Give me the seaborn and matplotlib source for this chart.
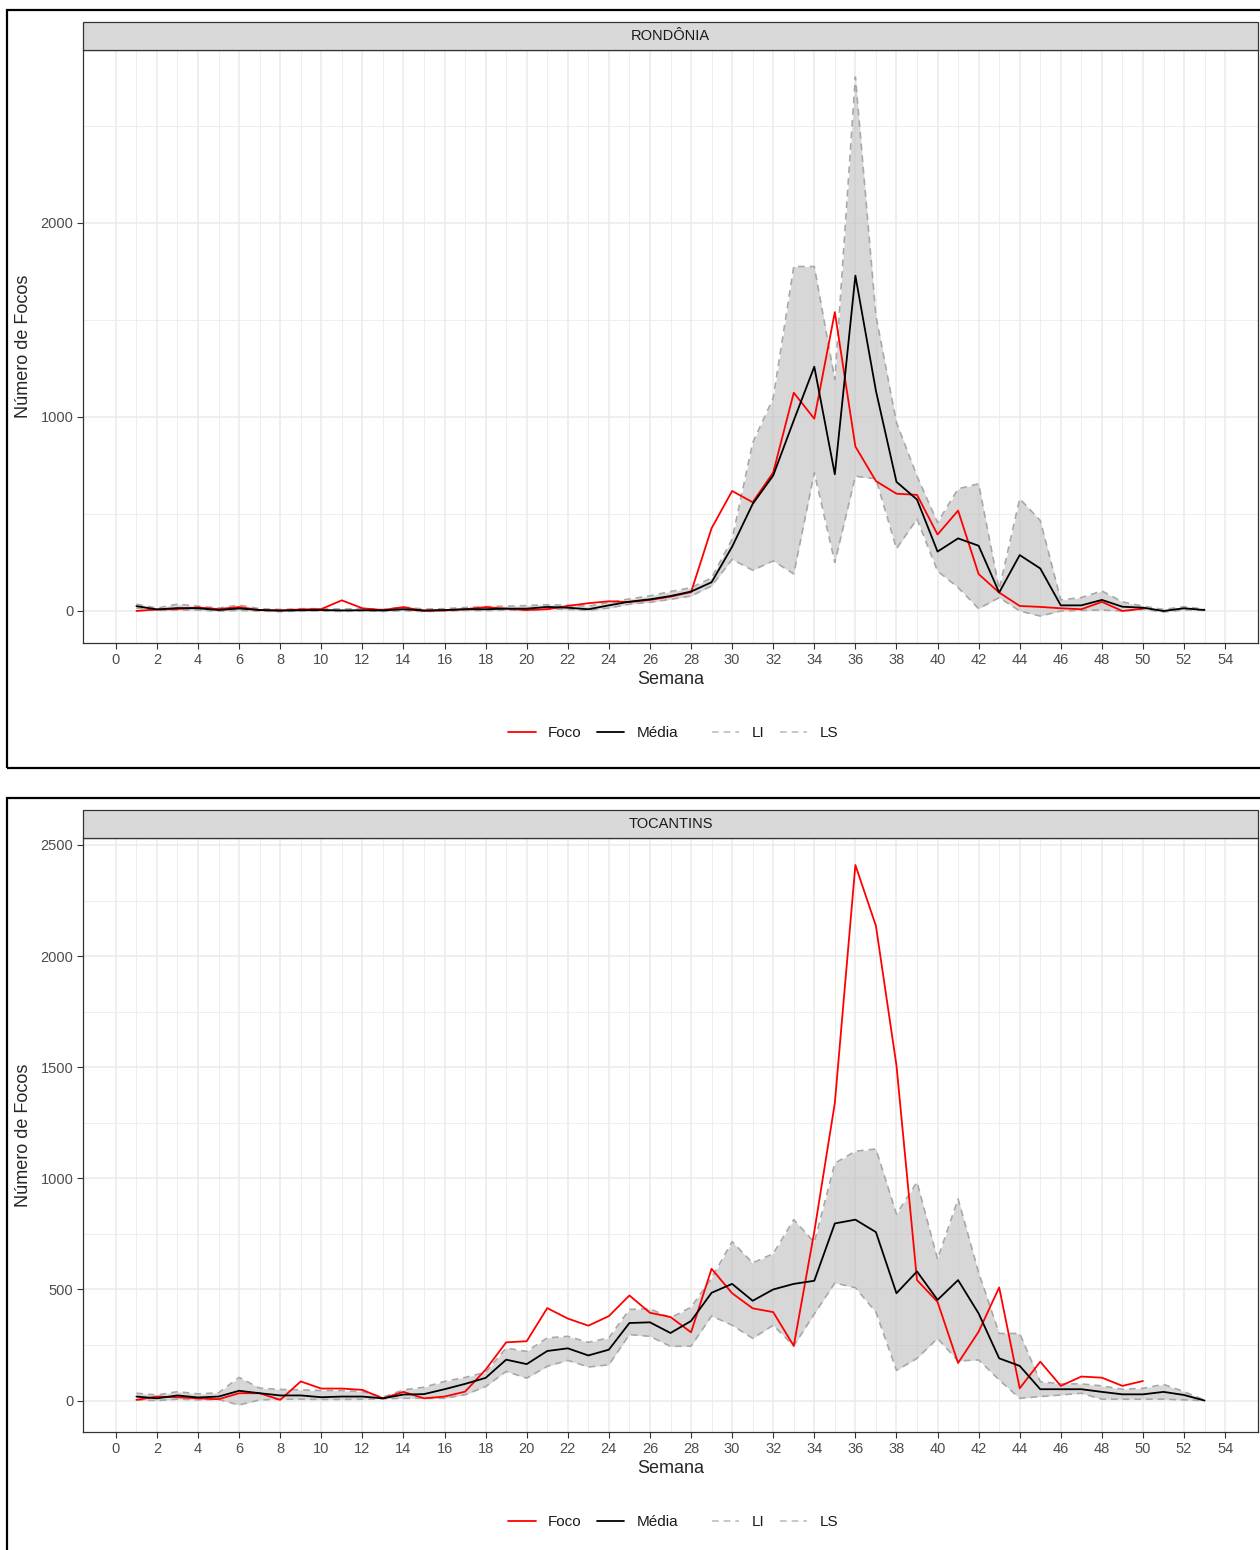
import numpy as np
import pandas as pd
import seaborn as sns
import matplotlib.pyplot as plt
from matplotlib.patches import Rectangle
from matplotlib.lines import Line2D

# dados (semana 1..53)
semanas = list(range(1, 54))

ro_foco = [0, 8, 10, 18, 10, 20, 5, 3, 8, 10, 55, 14, 5, 20, 0, 3, 9, 20, 12, 5,
           9, 26, 40, 50, 46, 57, 74, 97, 426, 618, 560, 713, 1124, 990, 1539, 847,
           669, 604, 598, 394, 517, 190, 95, 26, 21, 14, 9, 47, 0, 12]
ro_media = [25, 8, 15, 14, 5, 13, 5, 2, 4, 5, 3, 4, 3, 9, 3, 5, 9, 9, 12, 12,
            21, 17, 9, 29, 48, 60, 77, 100, 148, 331, 551, 698, 981, 1258, 704, 1727,
            1134, 665, 574, 306, 374, 336, 95, 288, 219, 29, 29, 57, 22, 17, 0, 14, 5]
ro_ls = [35, 15, 35, 25, 15, 30, 12, 8, 12, 12, 10, 12, 8, 20, 10, 12, 18, 22, 25, 28,
         32, 30, 25, 45, 62, 78, 100, 120, 170, 370, 866, 1096, 1774, 1774, 1191, 2750,
         1520, 971, 694, 455, 629, 655, 112, 578, 466, 57, 69, 103, 47, 25, 8, 22, 10]
ro_li = [15, 3, 5, 5, 0, 3, 0, -3, 0, 0, -2, 0, -2, 2, -3, 0, 3, 2, 5, 3,
         12, 8, 3, 15, 35, 45, 60, 77, 129, 266, 210, 258, 191, 713, 250, 694,
         681, 321, 474, 206, 121, 12, 69, 0, -26, 0, 3, 5, 0, 8, -5, 5, 3]

to_foco = [3, 18, 15, 10, 6, 33, 33, 3, 86, 54, 54, 48, 10, 39, 10, 18, 40, 139, 262, 267,
           416, 369, 337, 380, 473, 395, 376, 307, 593, 483, 415, 398, 246, 760, 1339, 2410,
           2136, 1508, 542, 444, 169, 310, 509, 55, 175, 66, 108, 103, 66, 88]
to_media = [18, 10, 23, 14, 18, 44, 33, 23, 23, 15, 18, 18, 10, 27, 29, 51, 75, 102, 184, 164,
            223, 235, 203, 229, 349, 352, 304, 358, 485, 525, 449, 500, 525, 539, 797, 814,
            758, 483, 581, 453, 542, 392, 190, 156, 51, 51, 51, 39, 28, 28, 39, 25, 0]
to_ls = [33, 25, 40, 30, 35, 104, 56, 50, 48, 45, 45, 40, 15, 48, 60, 86, 104, 127, 236, 221,
         282, 289, 262, 282, 410, 413, 372, 420, 551, 715, 619, 661, 814, 712, 1068, 1122,
         1132, 839, 983, 636, 907, 576, 302, 302, 85, 75, 75, 66, 51, 55, 73, 40, 2]
to_li = [3, 0, 6, 3, 5, -20, 3, 6, 6, 5, 5, 6, 8, 10, 10, 10, 26, 63, 131, 101,
         154, 181, 151, 161, 297, 289, 244, 245, 381, 339, 280, 339, 246, 390, 529, 508,
         398, 136, 190, 280, 178, 183, 93, 10, 18, 25, 33, 6, 6, 6, 6, 3, 0]

estados = ["RONDÔNIA", "TOCANTINS"]
yticks = [[0, 1000, 2000], [0, 500, 1000, 1500, 2000, 2500]]

sns.set_theme(style="white")
plt.rcParams['font.family'] = ['Liberation Sans', 'DejaVu Sans']

W, H = 1260, 1550
fig = plt.figure(figsize=(W / 100, H / 100), dpi=100)


def fx(px):
    return px / W


def fy(py):
    return 1 - py / H


# posicoes em pixels: (topo do quadro, topo da faixa, topo do painel, base do painel)
layout = [(10, 22, 50, 643), (798, 810, 838, 1432)]

series = [(ro_foco, ro_media, ro_li, ro_ls), (to_foco, to_media, to_li, to_ls)]

for k, (foco, media, li, ls) in enumerate(series):
    frame_top, strip_top, p_top, p_bot = layout[k]
    left, right = 83, 1258

    # quadro externo preto
    fig.patches.append(Rectangle((fx(7), fy(frame_top + 758)), fx(1300), fy(frame_top) - fy(frame_top + 758),
                                 transform=fig.transFigure, fill=False, ec='black', lw=1.6))

    ax = fig.add_axes([fx(left), fy(p_bot), fx(right - left), fy(p_top) - fy(p_bot)])

    df = pd.DataFrame({"Semana": semanas, "Media": media, "LI": li, "LS": ls})
    df_foco = pd.DataFrame({"Semana": semanas[:len(foco)], "Foco": foco})

    ax.fill_between(df["Semana"], df["LI"], df["LS"], color='#BDBDBD', alpha=0.6, lw=0, zorder=2)
    sns.lineplot(data=df, x="Semana", y="LI", ax=ax, color='#A8A8A8', lw=1.2, zorder=3,
                 linestyle=(0, (4, 3)))
    sns.lineplot(data=df, x="Semana", y="LS", ax=ax, color='#A8A8A8', lw=1.2, zorder=3,
                 linestyle=(0, (4, 3)))
    sns.lineplot(data=df_foco, x="Semana", y="Foco", ax=ax, color='#FF0000', lw=1.3, zorder=4)
    sns.lineplot(data=df, x="Semana", y="Media", ax=ax, color='black', lw=1.3, zorder=5)

    ax.set_xticks(range(0, 55, 2))
    ax.set_xticks(range(1, 55, 2), minor=True)
    yt = yticks[k]
    step = yt[1] - yt[0]
    ax.set_yticks(yt)
    ax.set_yticks([v + step / 2 for v in yt], minor=True)

    # limites com expansao de 5% como no ggplot (depois dos ticks)
    xmin, xmax = 1, 53
    ax.set_xlim(xmin - 0.05 * (xmax - xmin), xmax + 0.05 * (xmax - xmin))
    ymin = min(min(li), min(foco), min(media))
    ymax = max(max(ls), max(foco), max(media))
    ax.set_ylim(ymin - 0.05 * (ymax - ymin), ymax + 0.05 * (ymax - ymin))

    ax.grid(True, which='major', color='#EBEBEB', lw=1.1, zorder=0)
    ax.grid(True, which='minor', color='#EBEBEB', lw=0.6, zorder=0)
    ax.set_axisbelow(True)

    ax.tick_params(axis='both', which='major', labelsize=10.5, labelcolor='#4D4D4D',
                   length=4, width=0.8, color='#333333', left=True, bottom=True, pad=3)
    ax.tick_params(axis='both', which='minor', length=0)
    for s in ax.spines.values():
        s.set_color('#333333')
        s.set_linewidth(0.9)

    ax.set_xlabel("Semana", fontsize=13, labelpad=3)
    ax.set_ylabel("Número de Focos", fontsize=13, labelpad=6)

    # faixa do facet
    fig.patches.append(Rectangle((fx(left), fy(p_top)), fx(right - left), fy(strip_top) - fy(p_top),
                                 transform=fig.transFigure, fc='#D9D9D9', ec='#333333', lw=0.9))
    fig.text(fx((left + right) / 2), fy((strip_top + p_top) / 2), estados[k], ha='center', va='center',
             fontsize=10.5, color='#1A1A1A')

    # legendas (cor e tipo de linha)
    h1 = [Line2D([], [], color='#FF0000', lw=1.3), Line2D([], [], color='black', lw=1.3)]
    h2 = [Line2D([], [], color='#BDBDBD', lw=1.2, linestyle=(0, (4, 3))),
          Line2D([], [], color='#BDBDBD', lw=1.2, linestyle=(0, (4, 3)))]
    leg_y = fy(p_bot + 90)
    leg1 = fig.legend(h1, ["Foco", "Média"], loc='center', bbox_to_anchor=(fx(593), leg_y),
                      ncol=2, frameon=False, fontsize=11, handlelength=1.8, columnspacing=1.0,
                      handletextpad=0.8)
    leg2 = fig.legend(h2, ["LI", "LS"], loc='center', bbox_to_anchor=(fx(775), leg_y),
                      ncol=2, frameon=False, fontsize=11, handlelength=1.8, columnspacing=1.0,
                      handletextpad=0.8)
    for leg in (leg1, leg2):
        for t in leg.get_texts():
            t.set_color('#1A1A1A')

fig.savefig("out.png", dpi=100)
